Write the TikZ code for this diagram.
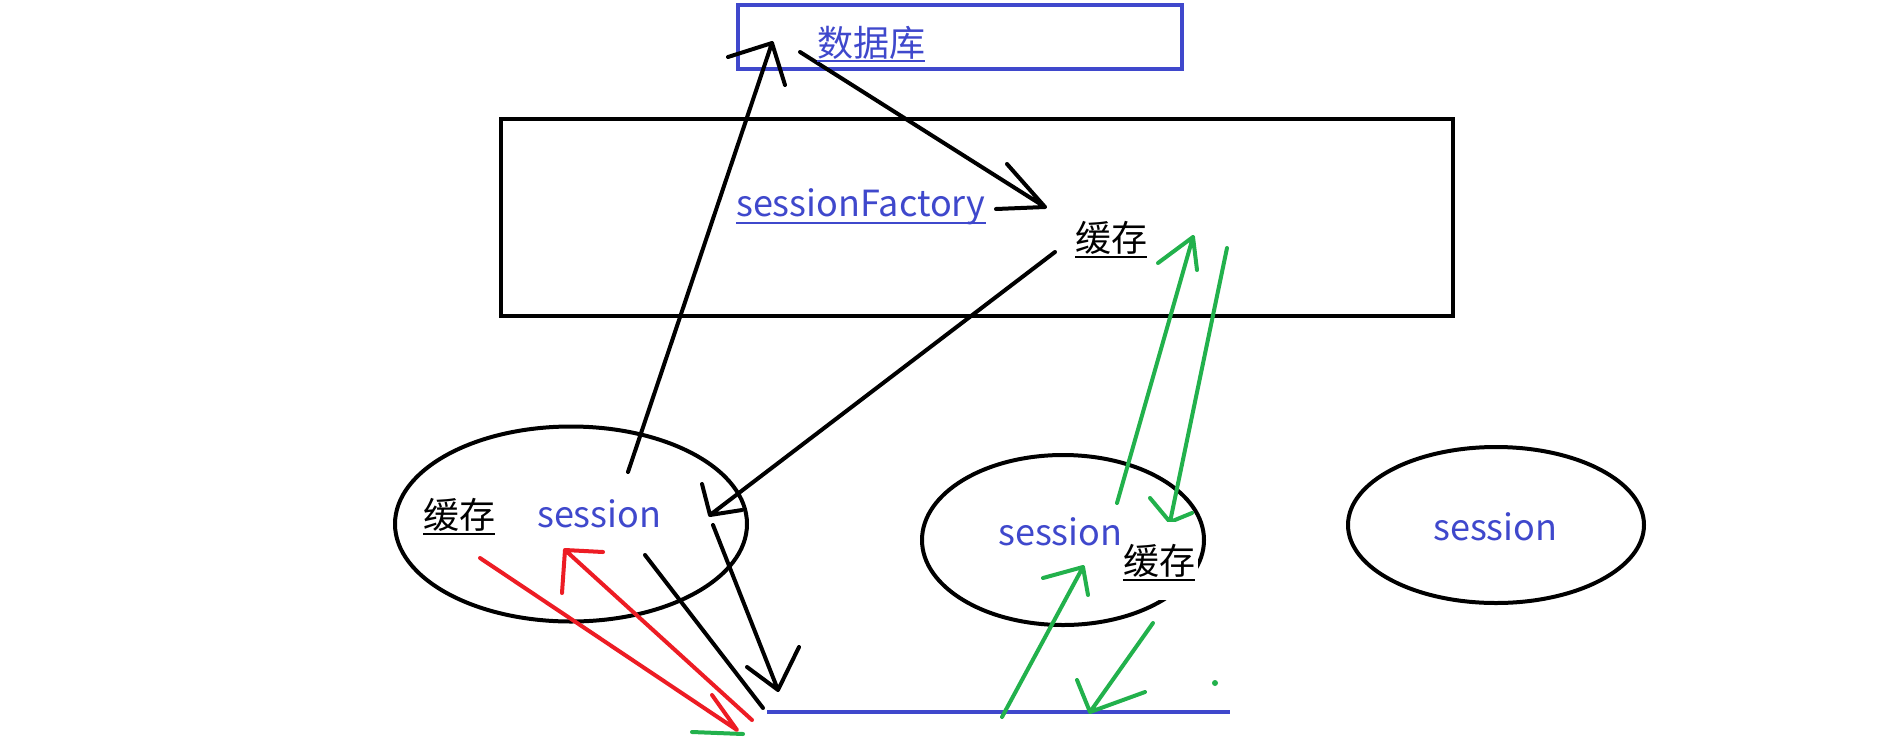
\documentclass[tikz,border=0pt]{standalone}
\usepackage{fontspec}
\setmainfont{Noto Sans CJK SC}
\usetikzlibrary{shapes.geometric}
\definecolor{pblue}{HTML}{3F48CC}
\definecolor{pred}{HTML}{ED1C24}
\definecolor{pgreen}{HTML}{22B14C}
\begin{document}
\begin{tikzpicture}[x=1pt,y=-1pt,
  stroke/.style={line width=4pt,line cap=round,line join=round},
  blk/.style={stroke,black},
  redl/.style={stroke,pred},
  grn/.style={stroke,pgreen},
  oval/.style={ellipse,draw=black,line width=4pt,inner sep=0pt},
  box/.style={rectangle,draw,line width=4pt,inner sep=0pt},
  lbl/.style={anchor=base west,inner sep=0pt,font=\fontsize{36}{40}\selectfont},
  cjk/.style={anchor=base west,inner sep=0pt,font=\fontsize{36}{40}\selectfont},
  ul/.style={line width=2pt}]
\useasboundingbox (0,0) rectangle (1899,740);
\fill[white] (0,0) rectangle (1899,740);

% boxes
\node[box,draw=pblue,minimum width=444,minimum height=64] (db) at (960,37) {};
\node[box,draw=black,minimum width=952,minimum height=197] (sf) at (977,217.5) {};

% ellipses
\node[oval,minimum width=352,minimum height=195] (e1) at (571,524) {};
\node[oval,minimum width=282,minimum height=170] (e2) at (1063,540) {};
\node[oval,minimum width=296,minimum height=156] (e3) at (1496,525) {};

% coordinates of the hand-drawn arrows
\coordinate (a1s) at (628,472); \coordinate (a1t) at (772,43);
\coordinate (a1b) at (728,57);  \coordinate (a1c) at (785,85);
\coordinate (a2s) at (800,52);  \coordinate (a2t) at (1045,207);
\coordinate (a2b) at (1007,164); \coordinate (a2c) at (996,209);
\coordinate (a3s) at (1055,252); \coordinate (a3t) at (710,515);
\coordinate (a3b) at (702,484); \coordinate (a3c) at (742,510);
\coordinate (a4s) at (713,525); \coordinate (a4t) at (778,690);
\coordinate (a4b) at (747,667); \coordinate (a4c) at (799,647);
\coordinate (l5s) at (645,555); \coordinate (l5t) at (763,708);
\coordinate (r1s) at (480,558); \coordinate (r1t) at (737,730);
\coordinate (r1b) at (712,695);
\coordinate (r2s) at (752,720); \coordinate (r2t) at (565,550);
\coordinate (r2b) at (603,552); \coordinate (r2c) at (562,593);
\coordinate (gss) at (692,732); \coordinate (gst) at (743,734);
\coordinate (g1s) at (1117,503); \coordinate (g1t) at (1193,237);
\coordinate (g1b) at (1158,263); \coordinate (g1c) at (1197,270);
\coordinate (g2s) at (1227,248); \coordinate (g2t) at (1170,522);
\coordinate (g2b) at (1150,498); \coordinate (g2c) at (1192,513);
\coordinate (g3s) at (1002,717); \coordinate (g3t) at (1083,567);
\coordinate (g3b) at (1043,578); \coordinate (g3c) at (1088,595);
\coordinate (g4s) at (1153,623); \coordinate (g4t) at (1090,712);
\coordinate (g4b) at (1077,680); \coordinate (g4c) at (1145,692);
\coordinate (bls) at (767,712); \coordinate (ble) at (1230,712);
\coordinate (dot) at (1215,683);

% black arrows
\draw[blk] (a1s) -- (a1t) (a1b) -- (a1t) -- (a1c);
\draw[blk] (a2s) -- (a2t) (a2b) -- (a2t) -- (a2c);
\draw[blk] (a3s) -- (a3t) (a3b) -- (a3t) -- (a3c);
\draw[blk] (a4s) -- (a4t) (a4b) -- (a4t) -- (a4c);
\draw[blk] (l5s) -- (l5t);

% blue line
\draw[line width=4pt,pblue] (bls) -- (ble);

% red arrows
\draw[grn] (gss) -- (gst);
\draw[redl] (r1s) -- (r1t) -- (r1b);
\draw[redl] (r2s) -- (r2t) (r2b) -- (r2t) -- (r2c);

% green arrows
\draw[grn] (g1s) -- (g1t) (g1b) -- (g1t) -- (g1c);
\draw[grn] (g2s) -- (g2t) (g2b) -- (g2t) -- (g2c);
\draw[grn] (g3s) -- (g3t) (g3b) -- (g3t) -- (g3c);
\draw[grn] (g4s) -- (g4t) (g4b) -- (g4t) -- (g4c);
\fill[pgreen] (dot) circle (3);

% white background of the middle cache label
\node[fill=white,inner sep=0pt,minimum width=80,minimum height=78] (c2bg) at (1158,561) {};

% texts
\node[cjk,text=pblue] (tdb) at (817,56) {数据库};
\draw[ul,pblue] ([yshift=-5pt]tdb.base west) -- ([yshift=-5pt]tdb.base east);
\node[lbl,text=pblue] (tsf) at (736,216) {sessionFactory};
\draw[ul,pblue] ([yshift=-7pt]tsf.base west) -- ([yshift=-7pt]tsf.base east);
\node[cjk] (tc0) at (1075,251) {缓存};
\draw[ul] ([yshift=-6pt]tc0.base west) -- ([yshift=-6pt]tc0.base east);
\node[cjk] (tc1) at (423,528) {缓存};
\draw[ul] ([yshift=-6pt]tc1.base west) -- ([yshift=-6pt]tc1.base east);
\node[cjk] (tc2) at (1123,574) {缓存};
\draw[ul] ([yshift=-6pt]tc2.base west) -- ([yshift=-6pt]tc2.base east);
\node[lbl,text=pblue] (ts1) at (537,527) {session};
\node[lbl,text=pblue] (ts2) at (998,545) {session};
\node[lbl,text=pblue] (ts3) at (1433,540) {session};
\end{tikzpicture}
\end{document}
